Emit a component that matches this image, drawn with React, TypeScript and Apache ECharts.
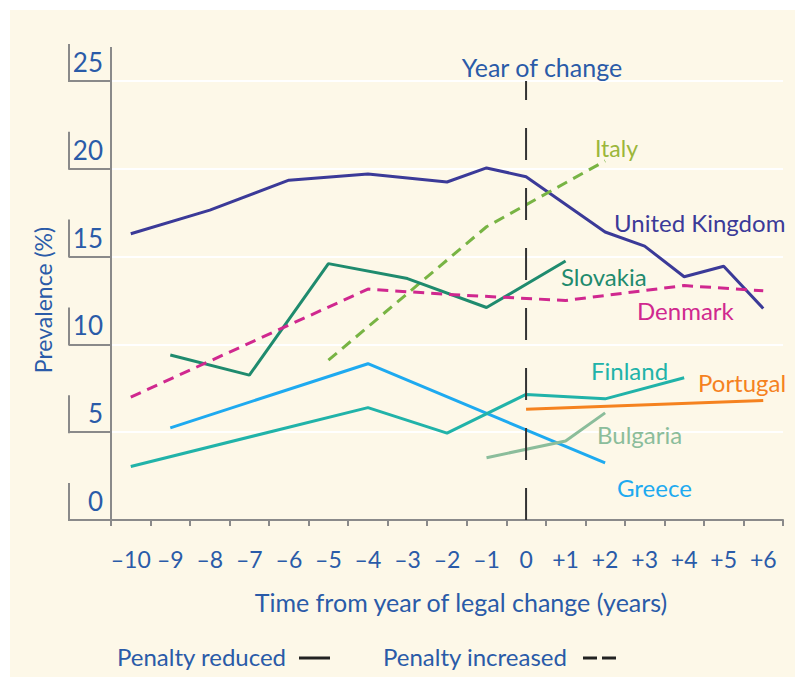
import React, { useEffect, useRef } from 'react';
import * as echarts from 'echarts';

const categories = ['–10', '–9', '–8', '–7', '–6', '–5', '–4', '–3', '–2', '–1', '0', '+1', '+2', '+3', '+4', '+5', '+6'];
const yTicks = [0, 5, 10, 15, 20, 25];

const ukValues = [16.3, null, 17.65, null, 19.35, null, 19.7, null, 19.25, 20.05, 19.55, null, 16.4, 15.6, 13.85, 14.45, 12.05];
const italyValues = [null, null, null, null, null, 9.1, null, null, null, 16.7, null, null, 20.45, null, null, null, null];
const slovakiaValues = [null, 9.4, null, 8.25, null, 14.6, null, 13.75, null, 12.1, null, 14.75, null, null, null, null, null];
const denmarkValues = [7.0, null, null, null, null, null, 13.15, null, 12.85, null, null, 12.5, null, null, 13.35, null, 13.05];
const greeceValues = [null, 5.25, null, null, null, null, 8.9, null, null, null, null, null, 3.25, null, null, null, null];
const finlandValues = [3.05, null, null, null, null, null, 6.4, null, 4.95, null, 7.15, null, 6.9, null, 8.1, null, null];
const portugalValues = [null, null, null, null, null, null, null, null, null, null, 6.3, null, null, null, null, null, 6.8];
const bulgariaValues = [null, null, null, null, null, null, null, null, null, 3.55, null, 4.5, 6.1, null, null, null, null];

const FONT = 'Lato';
const TEXT = '#2a5ba8';
const AXIS = '#8a8a8a';

const GRID_LEFT = 111;
const GRID_RIGHT = 12;
const GRID_TOP = 81;
const GRID_BOTTOM = 157;

export default function App() {
  const ref = useRef<HTMLDivElement>(null);

  useEffect(() => {
    const chart = echarts.init(ref.current!, null, { renderer: 'svg' });

    const mk = (name: string, data: (number | null)[], color: string, dashed: boolean) => ({
      type: 'line',
      name,
      data,
      connectNulls: true,
      symbol: 'none',
      silent: true,
      lineStyle: { color, width: 3, type: dashed ? [11, 7] : 'solid', cap: 'butt' },
    });

    chart.setOption({
      animation: false,
      backgroundColor: 'transparent',
      textStyle: { fontFamily: FONT },
      grid: { left: GRID_LEFT, right: GRID_RIGHT, top: GRID_TOP, bottom: GRID_BOTTOM },
      xAxis: {
        type: 'category',
        data: categories,
        boundaryGap: true,
        axisLine: { show: true, lineStyle: { color: AXIS, width: 2 } },
        axisTick: { show: true, length: 6, lineStyle: { color: AXIS, width: 2 } },
        axisLabel: { color: TEXT, fontSize: 23, fontFamily: FONT, margin: 27, interval: 0 },
        splitLine: { show: false },
      },
      yAxis: {
        type: 'value',
        min: 0,
        max: 25,
        interval: 5,
        axisLine: { show: true, lineStyle: { color: AXIS, width: 2 } },
        axisTick: { show: true, length: 42, lineStyle: { color: AXIS, width: 2 } },
        axisLabel: {
          color: TEXT,
          fontSize: 26,
          fontFamily: FONT,
          margin: 8,
          verticalAlign: 'bottom',
          lineHeight: 26,
          padding: [0, 0, 6, 0],
        },
        splitLine: { show: true, lineStyle: { color: '#ffffff', width: 2 } },
      },
      series: [
        mk('United Kingdom', ukValues, '#3b3a98', false),
        mk('Italy', italyValues, '#78b444', true),
        mk('Slovakia', slovakiaValues, '#1f8b6e', false),
        mk('Denmark', denmarkValues, '#d0288f', true),
        mk('Greece', greeceValues, '#1eaaf0', false),
        mk('Finland', finlandValues, '#21b3a9', false),
        mk('Portugal', portugalValues, '#f5821f', false),
        mk('Bulgaria', bulgariaValues, '#8bbd9b', false),
      ],
    });

    const yPx = (v: number) => chart.convertToPixel({ yAxisIndex: 0 }, v) as number;
    const zeroIdx = categories.indexOf('0');
    const changeX = (chart.convertToPixel({ seriesIndex: 0 }, [zeroIdx, 0]) as number[])[0];
    const bracketX = GRID_LEFT - 42;

    const graphics: any[] = [];
    yTicks.forEach((v) => {
      const py = yPx(v);
      graphics.push({
        type: 'line',
        silent: true,
        shape: { x1: bracketX, y1: py - 37, x2: bracketX, y2: py + 1 },
        style: { stroke: AXIS, lineWidth: 2 },
      });
    });
    const topY = yPx(25);
    graphics.push({
      type: 'line',
      silent: true,
      shape: { x1: GRID_LEFT, y1: topY - 34, x2: GRID_LEFT, y2: topY },
      style: { stroke: AXIS, lineWidth: 2 },
    });
    graphics.push({
      type: 'line',
      silent: true,
      z: 10,
      shape: { x1: changeX, y1: yPx(0), x2: changeX, y2: yPx(25) },
      style: { stroke: '#333333', lineWidth: 2, lineDash: [32, 28] },
    });

    const txt = (text: string, x: number, y: number, color: string, size: number, align = 'left', rotation = 0) => ({
      type: 'text',
      silent: true,
      x,
      y,
      rotation,
      style: { text, fill: color, font: `${size}px ${FONT}`, align, verticalAlign: 'middle' },
    });

    graphics.push(txt('Year of change', 542, 67, TEXT, 25, 'center'));
    graphics.push(txt('Italy', 595, 148, '#9bb63a', 23));
    graphics.push(txt('United Kingdom', 614, 222, '#3b3a98', 24));
    graphics.push(txt('Slovakia', 561, 276, '#1f8b6e', 24));
    graphics.push(txt('Denmark', 637, 310, '#d0288f', 24));
    graphics.push(txt('Finland', 591, 370, '#21b3a9', 24));
    graphics.push(txt('Portugal', 698, 382, '#f5821f', 24));
    graphics.push(txt('Bulgaria', 597, 434, '#8bbd9b', 24));
    graphics.push(txt('Greece', 617, 487, '#1eaaf0', 24));
    graphics.push(txt('Prevalence (%)', 43, 300, TEXT, 23, 'center', Math.PI / 2));
    graphics.push(txt('Time from year of legal change (years)', 461, 602, TEXT, 25, 'center'));
    graphics.push(txt('Penalty reduced', 117, 656, TEXT, 24));
    graphics.push(txt('Penalty increased', 383, 656, TEXT, 24));
    graphics.push({
      type: 'line',
      silent: true,
      shape: { x1: 299, y1: 658, x2: 330, y2: 658 },
      style: { stroke: '#222222', lineWidth: 3 },
    });
    graphics.push({
      type: 'line',
      silent: true,
      shape: { x1: 583, y1: 658, x2: 616, y2: 658 },
      style: { stroke: '#222222', lineWidth: 3, lineDash: [14, 5] },
    });

    chart.setOption({ graphic: graphics });

    return () => chart.dispose();
  }, []);

  return (
    <div style={{ position: 'fixed', left: 0, top: 0, width: 795, height: 677, background: '#ffffff' }}>
      <div style={{ position: 'absolute', left: 10, top: 10, width: 785, height: 667, background: '#fdf8e8' }} />
      <div ref={ref} style={{ position: 'absolute', left: 0, top: 0, width: 795, height: 677 }} />
    </div>
  );
}
